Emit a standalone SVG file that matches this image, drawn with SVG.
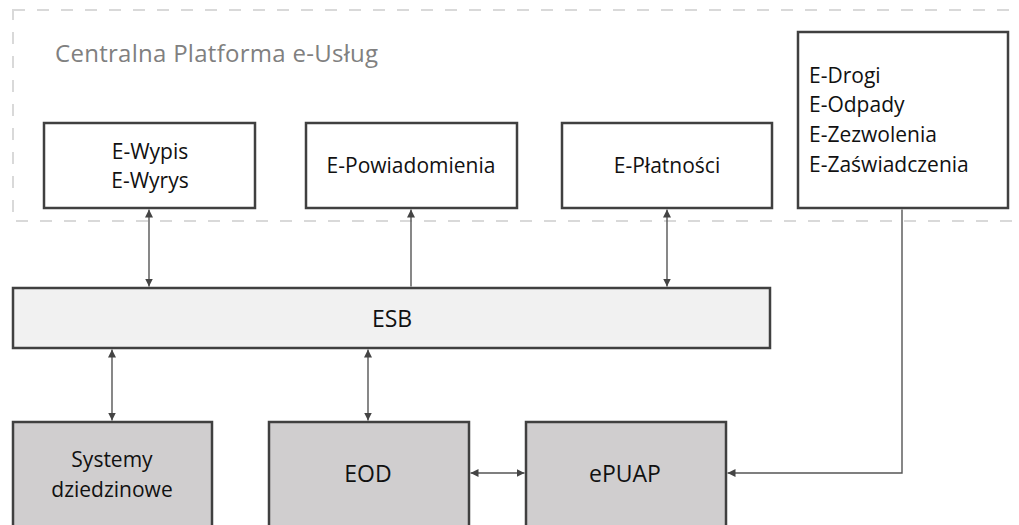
<svg xmlns="http://www.w3.org/2000/svg" width="1019" height="525" viewBox="0 0 1019 525">
<style>
text{font-family:"Open Sans","Liberation Sans",sans-serif;fill:#111;}
.box{fill:#fff;stroke:#404040;stroke-width:2.5;}
.gray{fill:#d0cecf;stroke:#404040;stroke-width:2.5;}
.esb{fill:#f1f1f1;stroke:#404040;stroke-width:2.5;}
.t{font-size:21px;text-anchor:middle;}
.tb{font-size:23px;text-anchor:middle;}
.c{fill:none;stroke:#555;stroke-width:1.4;}
</style>
<defs>
<marker id="ah" viewBox="0 0 10 10" refX="10" refY="5" markerWidth="8" markerHeight="8" markerUnits="userSpaceOnUse" orient="auto-start-reverse">
<path d="M0,0 L10,5 L0,10 z" fill="#444"/>
</marker>
</defs>
<rect width="1019" height="525" fill="#fff"/>
<g id="platform">
<rect x="13" y="10" width="1030" height="211" fill="none" stroke="#d9d9d9" stroke-width="2" stroke-dasharray="12 12"/>
<text x="55" y="62" font-size="24" style="fill:#808080" textLength="323" lengthAdjust="spacing">Centralna Platforma e-Usług</text>
</g>
<g id="connectors">
<line class="c" x1="149" y1="209.5" x2="149" y2="286.5" marker-start="url(#ah)" marker-end="url(#ah)"/>
<line class="c" x1="411" y1="286.5" x2="411" y2="209.5" marker-end="url(#ah)"/>
<line class="c" x1="667" y1="209.5" x2="667" y2="286.5" marker-start="url(#ah)" marker-end="url(#ah)"/>
<line class="c" x1="112" y1="349.5" x2="112" y2="420.5" marker-start="url(#ah)" marker-end="url(#ah)"/>
<line class="c" x1="368" y1="349.5" x2="368" y2="420.5" marker-start="url(#ah)" marker-end="url(#ah)"/>
<line class="c" x1="470.5" y1="473" x2="524.5" y2="473" marker-start="url(#ah)" marker-end="url(#ah)"/>
<polyline class="c" points="902,209.5 902,473 727.5,473" marker-end="url(#ah)"/>
</g>
<g id="n-wypis">
<rect class="box" x="44" y="123" width="211" height="85"/>
<text class="t" x="150" y="159">E-Wypis</text>
<text class="t" x="150" y="188">E-Wyrys</text>
</g>
<g id="n-powiadomienia">
<rect class="box" x="306" y="123" width="211" height="85"/>
<text class="t" x="411" y="173">E-Powiadomienia</text>
</g>
<g id="n-platnosci">
<rect class="box" x="562" y="123" width="210" height="85"/>
<text class="t" x="667" y="173">E-Płatności</text>
</g>
<g id="n-drogi">
<rect class="box" x="798" y="32" width="210" height="176"/>
<text font-size="21" x="809" y="83">E-Drogi</text>
<text font-size="21" x="809" y="112">E-Odpady</text>
<text font-size="21" x="809" y="142">E-Zezwolenia</text>
<text font-size="21" x="809" y="172">E-Zaświadczenia</text>
</g>
<g id="n-esb">
<rect class="esb" x="13" y="288" width="757" height="60"/>
<text class="tb" x="392" y="327">ESB</text>
</g>
<g id="n-systemy">
<rect class="gray" x="13" y="422" width="199" height="106"/>
<text class="t" x="112" y="467">Systemy</text>
<text class="t" x="112" y="497">dziedzinowe</text>
</g>
<g id="n-eod">
<rect class="gray" x="269" y="422" width="200" height="106"/>
<text class="tb" x="368" y="482">EOD</text>
</g>
<g id="n-epuap">
<rect class="gray" x="526" y="422" width="200" height="106"/>
<text class="tb" x="625" y="482">ePUAP</text>
</g>
</svg>
